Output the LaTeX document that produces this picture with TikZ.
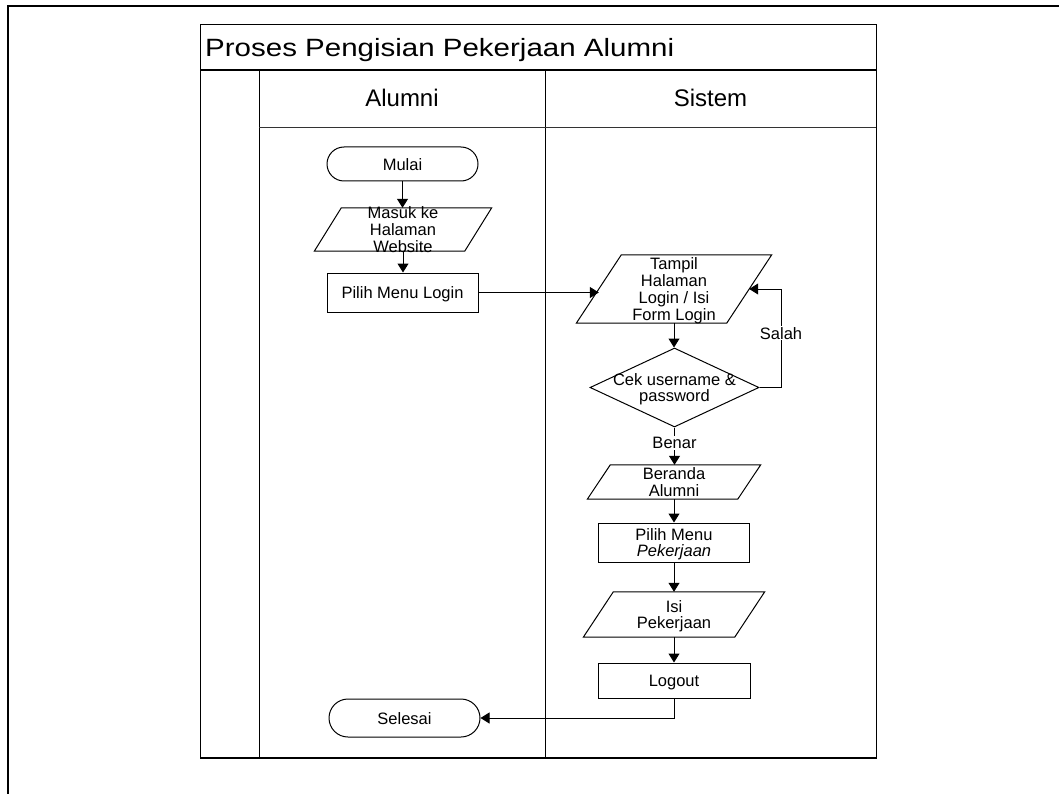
\documentclass[tikz,border=0pt]{standalone}
\usepackage{fontspec}
\setmainfont{Liberation Sans}
\usetikzlibrary{arrows.meta,shapes.geometric,shapes.misc}
\newcommand\ztext[1]{\makebox[0pt]{\raisebox{-6.8pt}[0pt][0pt]{\begin{tabular}{@{}c@{}}#1\end{tabular}}}}
\newcommand\paradraw[2]{\draw[shapeline] ([xshift=#2]#1.north west) -- ([xshift=#2]#1.north east) -- ([xshift=-#2]#1.south east) -- ([xshift=-#2]#1.south west) -- cycle;}
\begin{document}
\begin{tikzpicture}[x=1pt,y=-1pt,
  nodefont/.style={font=\fontsize{16.5}{16}\selectfont},
  shapeline/.style={line width=1pt, draw=black},
  term/.style={rounded rectangle, shapeline, inner sep=0pt, minimum width=151pt, nodefont},
  proc/.style={rectangle, shapeline, inner sep=0pt, minimum width=151pt, nodefont},
  iobox/.style={rectangle, draw=none, inner sep=0pt, minimum width=150pt, nodefont},
  dec/.style={diamond, shapeline, inner sep=0pt, minimum width=169pt, minimum height=79pt, nodefont},
  arr/.style={line width=1pt, -{Triangle[length=9pt,width=11pt]}},
  lbl/.style={fill=white, inner sep=1pt, nodefont},
  header/.style={font=\fontsize{24}{28}\selectfont, inner sep=0pt}]
\useasboundingbox (0,0) rectangle (1059,794);
\fill[white] (0,0) rectangle (1059,794);
% outer frame
\draw[line width=1.5pt] (8,794) -- (8,6) -- (1059,6);
% pool
\draw[line width=1pt] (200,25) rectangle (876,758);
\draw[line width=2pt] (200,758) -- (876,758);
\draw[line width=2pt] (200,70) -- (876,70);
\draw[line width=1pt] (259,70) -- (259,758);
\draw[line width=1pt] (545,70) -- (545,758);
\draw[line width=0.8pt, draw=black!80] (259,127) -- (876,127);
\node[anchor=base west, inner sep=0pt, font=\fontsize{25}{30}\selectfont] (title) at (205,56.5) {\scalebox{1.18}[1]{Proses Pengisian Pekerjaan Alumni}};
\node[header] (hal) at (402,98) {Alumni};
\node[header] (hsis) at (710.5,98) {Sistem};
% nodes
\node[term, minimum height=34pt] (mulai) at (402.5,164) {\ztext{Mulai}};
\node[iobox, minimum height=43pt] (masuk) at (403,229.5) {\ztext{Masuk ke\\Halaman\\Website}};
\node[proc, minimum height=39pt] (login) at (402.5,292.5) {\ztext{Pilih Menu Login}};
\node[iobox, minimum height=68pt] (tampil) at (674,289) {\ztext{Tampil\\Halaman\\Login / Isi\\Form Login}};
\node[dec] (cek) at (674.5,387.5) {\ztext{Cek username \&\\password}};
\node[iobox, minimum height=34pt] (beranda) at (674,482) {\ztext{Beranda\\Alumni}};
\node[proc, minimum height=39pt] (pilpek) at (674,542.5) {\ztext{Pilih Menu\\\textit{Pekerjaan}}};
\node[iobox, minimum width=151pt, minimum height=45pt] (isi) at (674,614.5) {\ztext{Isi\\Pekerjaan}};
\node[proc, minimum width=152pt, minimum height=35pt] (logout) at (674,680.5) {\ztext{Logout}};
\node[term, minimum height=38pt] (selesai) at (404.5,718) {\ztext{Selesai}};
\paradraw{masuk}{13.5pt}
\paradraw{tampil}{22.5pt}
\paradraw{beranda}{11.5pt}
\paradraw{isi}{15pt}
% connectors
\coordinate (sc) at (781,0);
\draw[arr] (mulai.south) -- (mulai.south |- masuk.north);
\draw[arr] (masuk.south) -- (masuk.south |- login.north);
\draw[arr] (login.east) -- (login.east -| tampil.west);
\draw[arr] (tampil.south) -- (tampil.south |- cek.north);
\draw[arr] (cek.east) -- (cek.east -| sc) -- node[lbl, pos=0.55] (salah) {Salah} (tampil.east -| sc) -- (tampil.east);
\draw[arr] (cek.south) -- node[lbl, pos=0.42] (benar) {Benar} (cek.south |- beranda.north);
\draw[arr] (beranda.south) -- (beranda.south |- pilpek.north);
\draw[arr] (pilpek.south) -- (pilpek.south |- isi.north);
\draw[arr] (isi.south) -- (isi.south |- logout.north);
\draw[arr] (logout.south) |- (selesai.east);
\end{tikzpicture}
\end{document}
